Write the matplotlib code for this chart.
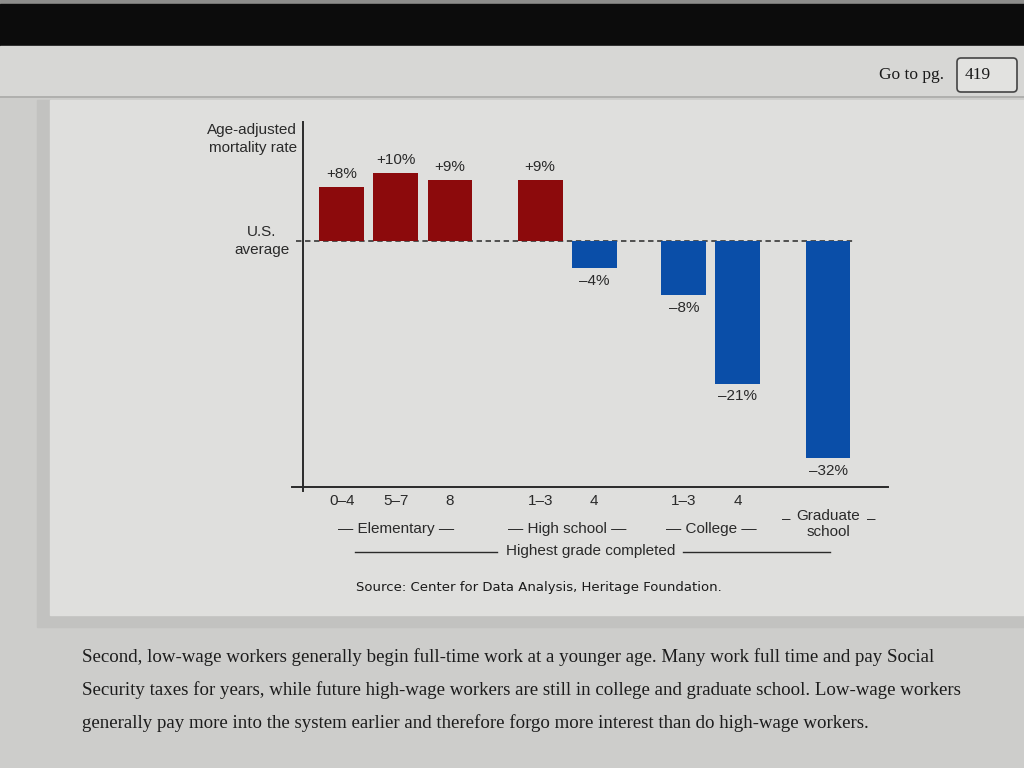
import matplotlib
matplotlib.use("Agg")
import matplotlib.pyplot as plt
import matplotlib.transforms as mtransforms
from matplotlib.patches import Rectangle, FancyBboxPatch

# data
grades = ['0–4', '5–7', '8', '1–3', '4', '1–3', '4', '']
values = [8, 10, 9, 9, -4, -8, -21, -32]
xpos = [0, 1, 2, 3.67, 4.67, 6.33, 7.33, 9]
groups = ['Elementary', 'High school', 'College']
group_centers = [1, 4.17, 6.83]

body_lines = [
    'Second, low-wage workers generally begin full-time work at a younger age. Many work full time and pay Social',
    'Security taxes for years, while future high-wage workers are still in college and graduate school. Low-wage workers',
    'generally pay more into the system earlier and therefore forgo more interest than do high-wage workers.',
]

red = '#8c0a0c'
blue = '#0a4ea8'
ink = '#2a2a2a'
sans = ['Liberation Sans', 'DejaVu Sans']
serif = ['Liberation Serif', 'DejaVu Serif']

fig = plt.figure(figsize=(10.24, 7.68), dpi=100)
fig.patch.set_facecolor('#cfcfcd')

# page / screen background, pixel coordinates
bg = fig.add_axes([0, 0, 1, 1])
bg.set_xlim(0, 1024)
bg.set_ylim(768, 0)
bg.axis('off')
bg.add_patch(Rectangle((0, 0), 1024, 4, color='#8e8e8c'))
bg.add_patch(Rectangle((0, 4), 1024, 42, color='#0c0c0c'))
bg.add_patch(Rectangle((0, 46), 1024, 51, color='#d7d7d5'))
bg.plot([0, 1024], [97, 97], color='#a9a9a7', lw=1.2)
bg.add_patch(Rectangle((0, 98), 1024, 670, color='#cdcdcb'))
bg.add_patch(Rectangle((37, 100), 990, 527, color='#c2c2c0'))
bg.add_patch(Rectangle((50, 100), 980, 515, color='#dfdfdd'))
bg.text(944, 75, 'Go to pg.', ha='right', va='center', family=serif,
        fontsize=12.5, color='#1a1a1a')
bg.add_patch(FancyBboxPatch((957, 58), 60, 34, boxstyle='round,pad=0,rounding_size=4',
                            fc='#e2e2e0', ec='#444444', lw=1.2))
bg.text(965, 75, '419', ha='left', va='center', family=serif, fontsize=12.5, color='#1a1a1a')
for i, line in enumerate(body_lines):
    bg.text(82, 657 + 33 * i, line, ha='left', va='center', family=serif,
            fontsize=13.6, color='#1c1c1c')
bg.text(356, 587, 'Source: Center for Data Analysis, Heritage Foundation.', ha='left',
        va='center', family=['DejaVu Sans'], fontsize=9.5, color='#1a1a1a')

# chart
ax = fig.add_axes([303 / 1024, 1 - 487 / 768, 585 / 1024, 365 / 768])
ax.set_facecolor('none')
ax.set_xlim(-0.72, 10.11)
ax.set_ylim(-36.2, 17.5)
for s in ax.spines.values():
    s.set_visible(False)
ax.set_yticks([])

ax.plot([-0.85, 9.5], [0, 0], color='#444444', lw=1.3, ls=(0, (3, 2)), clip_on=False, zorder=1)
colors = [red if v > 0 else blue for v in values]
ax.bar(xpos, values, width=0.83, color=colors, zorder=2)
for x, v in zip(xpos, values):
    lab = ('+%d%%' % v) if v > 0 else ('–%d%%' % abs(v))
    ax.annotate(lab, (x, v), xytext=(0, 4 if v > 0 else -4), textcoords='offset points',
                ha='center', va='bottom' if v > 0 else 'top', family=sans,
                fontsize=11, color=ink)

ax.plot([0, 0], [-0.01, 1], transform=ax.transAxes, color=ink, lw=1.4, clip_on=False)
ax.plot([-0.019, 1], [0, 0], transform=ax.transAxes, color=ink, lw=1.4, clip_on=False)

ax.set_xticks(xpos[:-1], grades[:-1])
ax.tick_params(axis='x', length=0, pad=5, labelsize=11, labelcolor=ink)
for t in ax.get_xticklabels():
    t.set_family(sans)

# labels below the axis, x in data units, y in page pixels
tr = mtransforms.blended_transform_factory(ax.transData, bg.transData)
for name, c in zip(groups, group_centers):
    ax.text(c, 529, '— ' + name + ' —', transform=tr, ha='center', va='center',
            family=sans, fontsize=11, color=ink, clip_on=False)
ax.text(xpos[-1], 524, 'Graduate\nschool', transform=tr, ha='center', va='center',
        family=sans, fontsize=11, color=ink, linespacing=1.15, clip_on=False)
for dx in (-0.78, 0.8):
    ax.text(xpos[-1] + dx, 519, '–', transform=tr, ha='center', va='center',
            family=sans, fontsize=11, color=ink, clip_on=False)
ax.text(4.6, 551, 'Highest grade completed', transform=tr, ha='center', va='center',
        family=sans, fontsize=11, color=ink, clip_on=False)
ax.plot([0.24, 2.87], [552, 552], transform=tr, color=ink, lw=1, clip_on=False)
ax.plot([6.31, 9.04], [552, 552], transform=tr, color=ink, lw=1, clip_on=False)

# y-axis captions
bg.text(297, 139, 'Age-adjusted\nmortality rate', ha='right', va='center', family=sans,
        fontsize=11, color=ink, linespacing=1.35)
bg.text(262, 241, 'U.S.\naverage', ha='center', va='center', family=sans,
        fontsize=11, color=ink, linespacing=1.4)

fig.savefig('out.png', dpi=100)
